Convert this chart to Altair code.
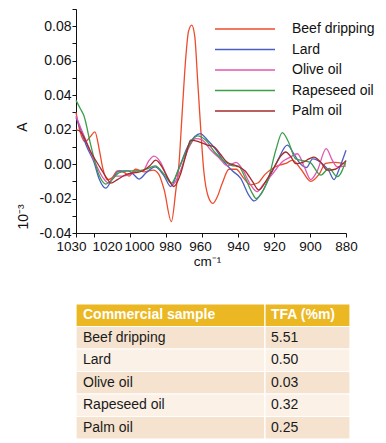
import altair as alt
import pandas as pd

FONT = "Liberation Sans"

SERIES = ["Beef dripping", "Lard", "Olive oil", "Rapeseed oil", "Palm oil"]
COLORS = ["#EE4B2B", "#4A5FC1", "#E056B0", "#3A9E4A", "#A52A2A"]

beef_x = [1030, 1027.5, 1025, 1022, 1019.5, 1017, 1015, 1012.5, 1010, 1007, 1003, 1000.5, 997, 992, 987, 984, 981,
          977, 974.5, 972.8, 971, 969, 967.5, 965.7, 964, 962.5, 961.3, 959, 956.5, 954, 951.5, 948.7, 945, 941,
          937, 933, 929, 925, 920, 917, 913, 909.8, 905, 899.6, 895, 891.3, 886, 880]
beef_y = [0.030, 0.018, 0.013, 0.016, 0.0187, 0.008, -0.003, -0.009, -0.008, -0.004, -0.005, -0.007, -0.003, -0.0045,
          -0.0035, -0.006, -0.015, -0.0334, -0.015, 0.0, 0.030, 0.062, 0.077, 0.0807, 0.074, 0.050, 0.030, -0.004,
          -0.019, -0.0228, -0.019, -0.011, -0.003, -0.003, -0.008, -0.012, -0.011, -0.006, -0.002, -0.0006, 0.0005,
          0.0023, -0.003, -0.010, -0.006, 0.0004, 0.001, 0.0]

lard_x = [1030, 1027.4, 1024, 1020, 1017, 1013.5, 1010, 1006, 1001, 998, 995, 991, 986, 981, 977.4, 973, 968, 964,
          961, 957, 952, 947.8, 943, 938.5, 934, 931, 927, 922.8, 918, 912.6, 909, 906, 902, 898.5, 893, 889.5,
          886.7, 883.5, 880]
lard_y = [0.027, 0.020, 0.010, 0.001, -0.009, -0.014, -0.009, -0.004, -0.004, -0.006, -0.0087, -0.005, -0.0016,
          -0.007, -0.013, -0.003, 0.010, 0.016, 0.0177, 0.014, 0.008, 0.0013, -0.004, -0.0083, -0.018, -0.0214,
          -0.017, -0.0083, 0.002, 0.011, 0.006, 0.001, -0.002, 0.003, 0.000, -0.004, -0.009, -0.002, 0.008]

olive_x = [1030, 1027, 1023, 1019, 1015, 1012, 1008, 1004, 1000, 996, 993, 989.5, 986.7, 983, 979.5, 976.5, 972,
           968, 963.5, 960, 955, 950, 946, 941, 937, 933, 929.5, 926, 921, 915.4, 911, 907, 903, 899.6, 896, 891,
           887.5, 884.8, 880]
olive_y = [0.028, 0.020, 0.010, 0.000, -0.008, -0.011, -0.007, -0.007, -0.006, -0.004, -0.004, 0.002, 0.0046,
           0.001, -0.007, -0.012, -0.004, 0.008, 0.0148, 0.014, 0.008, 0.003, -0.001, 0.001, -0.004, -0.012, -0.016,
           -0.012, -0.006, 0.0013, 0.004, 0.006, -0.002, -0.009, -0.004, 0.009, 0.002, -0.0016, -0.001]

rape_x = [1030, 1027.5, 1025.6, 1021.8, 1017.2, 1013.5, 1010, 1006, 1001, 996, 991, 986, 981, 977, 973, 968, 962.6,
          958, 953, 948, 943, 940, 936, 932, 930, 927, 923, 919, 915.4, 912, 908, 904, 900, 894, 889.4, 884.8, 880]
rape_y = [0.037, 0.032, 0.028, 0.011, -0.0064, -0.0116, -0.009, -0.005, -0.004, -0.004, -0.003, -0.001, -0.006,
          -0.011, -0.003, 0.009, 0.0164, 0.014, 0.007, 0.002, -0.001, -0.001, -0.008, -0.017, -0.020, -0.017, -0.008,
          0.008, 0.0183, 0.013, 0.003, 0.002, 0.001, -0.0064, -0.0025, -0.0073, 0.002]

palm_x = [1030, 1027.4, 1021.8, 1016.3, 1013, 1010.7, 1007, 1002, 997, 993, 989, 985.7, 982, 978.5, 975.6, 972, 969,
          966.3, 962, 957, 953.3, 950, 946, 941, 936, 932, 928.5, 924, 920, 916, 913.5, 910.5, 908, 904, 900.5,
          897.8, 894, 890.4, 886, 883, 880]
palm_y = [0.020, 0.0187, 0.007, -0.0025, -0.008, -0.011, -0.009, -0.006, -0.005, -0.004, -0.001, 0.0023, -0.002,
          -0.009, -0.013, -0.006, 0.005, 0.0139, 0.013, 0.011, 0.010, 0.006, 0.001, -0.001, -0.004, -0.010, -0.015,
          -0.009, -0.002, 0.005, 0.007, 0.004, 0.0003, 0.001, 0.003, 0.004, 0.001, -0.0035, -0.003, -0.001, 0.002]

X_TICKS = [1030, 1020, 1000, 980, 960, 940, 920, 900, 880]
Y_TICKS = [-0.04, -0.03, -0.02, -0.01, 0.0, 0.01, 0.02, 0.03, 0.04, 0.05, 0.06, 0.07, 0.08, 0.09]

TABLE_HEAD = ["Commercial sample", "TFA (%m)"]
TABLE_TFA = ["5.51", "0.50", "0.03", "0.32", "0.25"]

# ---------- line chart ----------
rows = []
for name, xs, ys in zip(SERIES, [beef_x, lard_x, olive_x, rape_x, palm_x],
                        [beef_y, lard_y, olive_y, rape_y, palm_y]):
    for xv, yv in zip(xs, ys):
        rows.append({"series": name, "wn": xv, "A": yv})
df = pd.DataFrame(rows)

x_label_offset = {
    "condition": [
        {"test": "datum.value == 1030", "value": -5},
        {"test": "datum.value == 1020", "value": 13},
        {"test": "datum.value == 1000", "value": 9},
        {"test": "datum.value == 980", "value": 4},
        {"test": "datum.value == 960", "value": -2},
    ],
    "value": 0,
}

lines = alt.Chart(df).mark_line(interpolate="monotone", strokeWidth=1.3).encode(
    x=alt.X("wn:Q",
            scale=alt.Scale(domain=[880, 1030], reverse=True, nice=False, zero=False),
            axis=alt.Axis(values=X_TICKS, title="cm⁻¹", titleFont=FONT, titleFontSize=13.5,
                          titleFontWeight="normal", titleColor="#111", titlePadding=2, titleX=131,
                          labelFont=FONT, labelFontSize=13.5, labelColor="#111", labelPadding=2,
                          labelOffset=x_label_offset, labelOverlap=False, labelFlush=False,
                          tickSize=4, tickColor="#111", domainColor="#111", grid=False, format="d")),
    y=alt.Y("A:Q",
            scale=alt.Scale(domain=[-0.04, 0.09], nice=False, zero=False),
            axis=alt.Axis(values=Y_TICKS, title=None,
                          labelExpr="abs(round(datum.value*100)) % 2 == 0 ? replace(format(datum.value, '.2f'), '\u2212', '-') : ''",
                          labelFont=FONT, labelFontSize=14, labelColor="#111", labelPadding=1,
                          tickSize=4, tickColor="#111", domainColor="#111", grid=False)),
    color=alt.Color("series:N",
                    scale=alt.Scale(domain=SERIES, range=COLORS),
                    legend=alt.Legend(title=None, orient="none", legendX=138, legendY=12,
                                      symbolType="stroke", symbolSize=3600, symbolStrokeWidth=1.3,
                                      clipHeight=16, rowPadding=4.5, labelOffset=16,
                                      labelFont=FONT, labelFontSize=14, labelColor="#111",
                                      padding=0)),
)

ylab_a = alt.Chart(pd.DataFrame({"t": ["A"]})).mark_text(
    angle=270, font=FONT, fontSize=14, color="#111").encode(
    x=alt.value(-53), y=alt.value(118), text="t:N")
ylab_e = alt.Chart(pd.DataFrame({"t": ["10⁻³"]})).mark_text(
    angle=270, font=FONT, fontSize=14, color="#111").encode(
    x=alt.value(-52), y=alt.value(208), text="t:N")

plot = alt.layer(lines, ylab_a, ylab_e).properties(width=270, height=224)

# ---------- table ----------
tdf = pd.DataFrame({
    "row": list(range(6)),
    "name": [TABLE_HEAD[0]] + SERIES,
    "val": [TABLE_HEAD[1]] + TABLE_TFA,
    "kind": ["header", "dark", "light", "dark", "light", "dark"],
})


def table_col(field, width, dx):
    base = alt.Chart(tdf).encode(
        y=alt.Y("row:O", axis=None, scale=alt.Scale(paddingInner=0, paddingOuter=0)))
    rect = base.mark_rect(stroke="white", strokeWidth=1.2).encode(
        x=alt.value(0), x2=alt.value(width),
        fill=alt.Fill("kind:N", scale=alt.Scale(domain=["header", "dark", "light"],
                                                range=["#EBB722", "#F5E3CF", "#FBF1E7"]),
                      legend=None))
    head = base.mark_text(align="left", font=FONT, fontSize=14, fontWeight="bold", color="white").encode(
        x=alt.value(dx), text=f"{field}:N").transform_filter(alt.datum.kind == "header")
    body = base.mark_text(align="left", font=FONT, fontSize=14, color="#1a1a1a").encode(
        x=alt.value(dx), text=f"{field}:N").transform_filter(alt.datum.kind != "header")
    return alt.layer(rect, head, body).properties(width=width, height=135)


table = alt.hconcat(table_col("name", 189, 7), table_col("val", 85, 6), spacing=0, bounds="flush")

chart = alt.vconcat(plot, table, spacing=71, bounds="flush").properties(
    padding={"left": 8, "top": 0, "right": 2, "bottom": 2}
).configure_view(stroke=None).configure_concat(spacing=0)

chart.save("out.html", embed_options={"renderer": "svg", "actions": False})
